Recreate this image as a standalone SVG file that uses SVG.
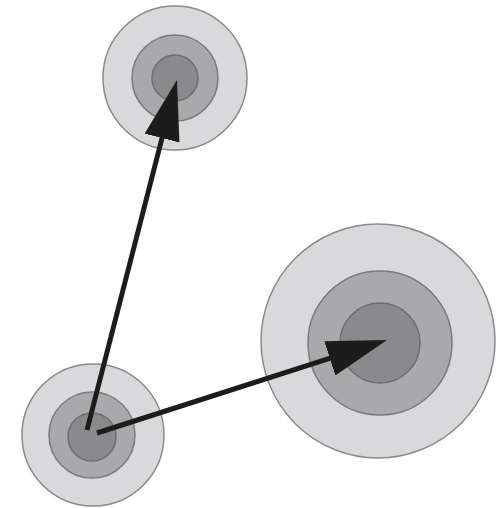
<svg xmlns="http://www.w3.org/2000/svg" width="496" height="508" viewBox="0 0 496 508">
<style>
.o{fill:#d9d9db;stroke:#8a8a8c;stroke-width:1.5}
.m{fill:#a9a9ab;stroke:#7a7a7c;stroke-width:1.5}
.i{fill:#8a8a8c;stroke:#6e6e70;stroke-width:1.5}
.a{stroke:#1c1c1c;stroke-width:5;fill:none;marker-end:url(#ah)}
</style>
<defs>
<marker id="ah" markerUnits="userSpaceOnUse" viewBox="0 0 60 36" refX="30" refY="18" markerWidth="60" markerHeight="36" orient="auto">
<path d="M0,0 L60,18 L0,36 z" fill="#1c1c1c"/>
</marker>
</defs>
<rect width="496" height="508" fill="#ffffff"/>
<g id="top">
<circle class="o" cx="175" cy="78" r="72"/>
<circle class="m" cx="175" cy="78" r="43"/>
<circle class="i" cx="175" cy="78" r="23"/>
</g>
<g id="right">
<circle class="o" cx="378" cy="341" r="117"/>
<circle class="m" cx="380" cy="343" r="72"/>
<circle class="i" cx="380" cy="343" r="40"/>
</g>
<g id="source">
<circle class="o" cx="93" cy="435" r="71"/>
<circle class="m" cx="92" cy="435" r="43"/>
<circle class="i" cx="92" cy="437" r="24"/>
</g>
<g id="connectors">
<line class="a" x1="87" y1="430" x2="169.5" y2="109"/>
<line class="a" x1="97" y1="433" x2="358.4" y2="349.2"/>
</g>
</svg>
